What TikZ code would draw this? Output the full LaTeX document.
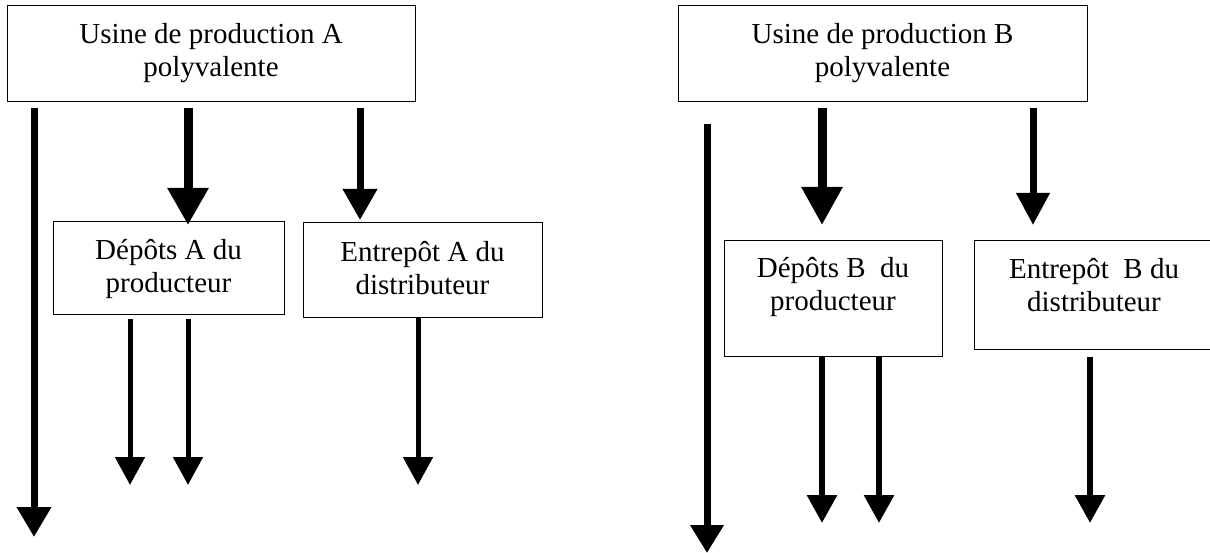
\documentclass[tikz,border=0pt]{standalone}
\usepackage{fontspec}
\setmainfont{Liberation Serif}
\usetikzlibrary{arrows.meta}
\newcommand{\twolines}[2]{\begin{tabular}[t]{@{}c@{}}#1\\#2\end{tabular}}
\begin{document}
\begin{tikzpicture}[x=1pt,y=-1pt,
  boxnode/.style={draw, line width=1pt, inner sep=0pt, anchor=north west, fill=white},
  txt/.style={anchor=base, inner sep=0pt, font=\fontsize{29}{33}\selectfont},
  bigarr/.style={line width=9pt, -{Triangle[length=37pt,width=39pt]}},
  medarr/.style={line width=7pt, -{Triangle[length=31pt,width=33pt]}},
  longarr/.style={line width=7pt, -{Triangle[length=30pt,width=33pt]}},
  smallarr/.style={line width=5pt, -{Triangle[length=28pt,width=29pt]}},
  smallarrB/.style={line width=6pt, -{Triangle[length=28pt,width=29pt]}}]
\useasboundingbox (0,0) rectangle (1210,553);

% ---------- side A ----------
\node[boxnode, minimum width=408pt, minimum height=96pt] (uA) at (7,5) {};
\node[txt] (uAt) at (211,43.5) {\twolines{Usine de production A}{polyvalente}};
\node[boxnode, minimum width=231pt, minimum height=93pt] (dA) at (53,221) {};
\node[txt] (dAt) at (168.5,259.5) {\twolines{Dépôts A du}{producteur}};
\node[boxnode, minimum width=239pt, minimum height=95pt] (eA) at (303,222) {};
\node[txt] (eAt) at (422.5,261.5) {\twolines{Entrepôt A du}{distributeur}};

\coordinate (xA1) at (34,0);
\coordinate (xA2) at (188,0);
\coordinate (xA3) at (360,0);
\coordinate (xA4) at (130,0);
\coordinate (xA5) at (418,0);
\coordinate (endAL) at (34,537);
\coordinate (endAd1) at (130,485);
\coordinate (endAd2) at (188,485);
\coordinate (endAe) at (418,485);

\draw[longarr] ([yshift=-6pt]uA.south -| xA1) -- (endAL);
\draw[bigarr] ([yshift=-6pt]uA.south -| xA2) -- ([yshift=-4pt]dA.north -| xA2);
\draw[medarr] ([yshift=-6pt]uA.south -| xA3) -- ([yshift=2pt]eA.north -| xA3);
\draw[smallarr] ([yshift=-4pt]dA.south -| xA4) -- (endAd1);
\draw[smallarr] ([yshift=-4pt]dA.south -| xA2) -- (endAd2);
\draw[smallarr] (eA.south -| xA5) -- (endAe);

% ---------- side B ----------
\node[boxnode, minimum width=409pt, minimum height=96pt] (uB) at (678,5) {};
\node[txt] (uBt) at (882.5,43.5) {\twolines{Usine de production B}{polyvalente}};
\node[boxnode, minimum width=218pt, minimum height=116pt] (dB) at (724,240) {};
\node[txt] (dBt) at (833,278) {\twolines{Dépôts B\ \ du}{producteur}};
\node[boxnode, minimum width=240pt, minimum height=109pt] (eB) at (974,240) {};
\node[txt] (eBt) at (1094,279) {\twolines{Entrepôt\ \ B du}{distributeur}};

\coordinate (xB1) at (707,0);
\coordinate (xB2) at (822,0);
\coordinate (xB3) at (1033,0);
\coordinate (xB4) at (879,0);
\coordinate (xB5) at (1090,0);
\coordinate (startBL) at (707,124);
\coordinate (endBL) at (707,553);
\coordinate (endBd1) at (822,523);
\coordinate (endBd2) at (879,523);
\coordinate (endBe) at (1090,523);

\draw[longarr, -{Triangle[length=28pt,width=32pt]}] (startBL) -- (endBL);
\draw[bigarr, -{Triangle[length=38pt,width=39pt]}] ([yshift=-6pt]uB.south -| xB2) -- ([yshift=15pt]dB.north -| xB2);
\draw[medarr, -{Triangle[length=32pt,width=32pt]}] ([yshift=-6pt]uB.south -| xB3) -- ([yshift=15pt]eB.north -| xB3);
\draw[smallarrB] (dB.south -| xB2) -- (endBd1);
\draw[smallarrB] (dB.south -| xB4) -- (endBd2);
\draw[smallarrB] ([yshift=-7pt]eB.south -| xB5) -- (endBe);
\end{tikzpicture}
\end{document}
